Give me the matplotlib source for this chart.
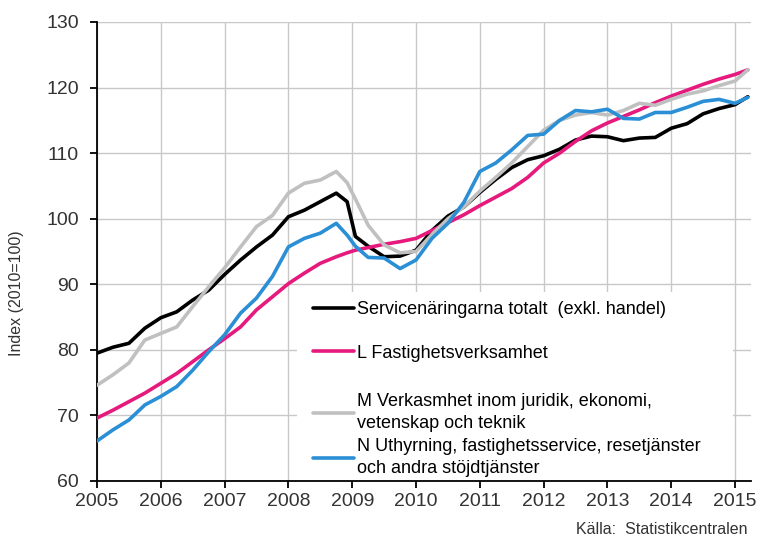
import matplotlib
matplotlib.use("Agg")
import matplotlib.pyplot as plt
from matplotlib.patches import Rectangle

plt.rcParams['font.family'] = ['Liberation Sans', 'DejaVu Sans']

# tidpunkter (år, ungefär kvartalsvis)
ar = [2005.0, 2005.25, 2005.5, 2005.75,
      2006.0, 2006.25, 2006.5, 2006.75,
      2007.0, 2007.25, 2007.5, 2007.75,
      2008.0, 2008.25, 2008.5, 2008.75, 2008.92,
      2009.05, 2009.25, 2009.5, 2009.75,
      2010.0, 2010.25, 2010.5, 2010.75,
      2011.0, 2011.25, 2011.5, 2011.75,
      2012.0, 2012.25, 2012.5, 2012.75,
      2013.0, 2013.25, 2013.5, 2013.75,
      2014.0, 2014.25, 2014.5, 2014.75,
      2015.0, 2015.2]

totalt = [79.5, 80.4, 81.0, 83.3,
          84.9, 85.8, 87.6, 89.1,
          91.5, 93.7, 95.7, 97.5,
          100.3, 101.3, 102.6, 103.9, 102.6,
          97.3, 95.8, 94.2, 94.3,
          95.2, 98.2, 100.4, 101.8,
          104.0, 106.0, 107.8, 109.0,
          109.6, 110.6, 112.0, 112.6,
          112.5, 111.9, 112.3, 112.4,
          113.8, 114.5, 116.0, 116.8,
          117.4, 118.6]

fastighet = [69.6, 70.8, 72.1, 73.4,
             74.9, 76.4, 78.2, 80.0,
             81.7, 83.5, 86.1, 88.1,
             90.1, 91.7, 93.2, 94.2, 94.8,
             95.2, 95.6, 96.1, 96.5,
             97.0, 98.2, 99.4, 100.6,
             102.0, 103.3, 104.6, 106.3,
             108.5, 110.0, 111.8, 113.4,
             114.6, 115.6, 116.6, 117.7,
             118.7, 119.6, 120.5, 121.3,
             122.0, 122.7]

juridik = [74.6, 76.2, 78.0, 81.5,
           82.5, 83.5, 86.6, 89.6,
           92.5, 95.7, 98.8, 100.5,
           103.9, 105.4, 105.9, 107.2, 105.5,
           103.0, 99.0, 96.0, 94.8,
           95.0, 97.6, 100.0, 101.8,
           104.2, 106.3, 108.5, 111.0,
           113.5, 115.0, 115.8, 116.2,
           115.8, 116.5, 117.6, 117.3,
           118.2, 119.0, 119.5, 120.3,
           121.0, 122.7]

uthyrning = [66.1, 67.8, 69.3, 71.6,
             72.9, 74.4, 76.9, 79.7,
             82.3, 85.6, 87.9, 91.2,
             95.7, 97.0, 97.8, 99.3, 97.5,
             95.8, 94.1, 94.0, 92.4,
             93.7, 97.0, 99.3, 102.5,
             107.2, 108.5, 110.5, 112.7,
             112.9, 115.0, 116.5, 116.3,
             116.7, 115.3, 115.2, 116.2,
             116.2, 117.0, 117.9, 118.2,
             117.6, 118.5]

etiketter = ['Servicenäringarna totalt  (exkl. handel)',
             'L Fastighetsverksamhet',
             'M Verkasmhet inom juridik, ekonomi,\nvetenskap och teknik',
             'N Uthyrning, fastighetsservice, resetjänster\noch andra stöjdtjänster']
farger = ['#000000', '#e6197d', '#c0c0c0', '#2b8fd6']
serier = [totalt, fastighet, juridik, uthyrning]

fig = plt.figure(figsize=(7.63, 5.42), dpi=100)
ax = fig.add_axes([97/763, 1 - 481/542, 654/763, 459/542])

linjer = []
for y, f, e in zip(serier, farger, etiketter):
    l, = ax.plot(ar, y, color=f, linewidth=2.6, label=e, zorder=3,
                 solid_joinstyle='round', solid_capstyle='round')
    linjer.append(l)

ax.set_xlim(2005, 2015.25)
ax.set_ylim(60, 130)
ax.set_xticks(range(2005, 2016))
ax.set_yticks(range(60, 131, 10))
ax.grid(True, color='#c8c8c8', linewidth=1.0)
ax.set_axisbelow(True)
for s in ['top', 'right']:
    ax.spines[s].set_visible(False)
for s in ['left', 'bottom']:
    ax.spines[s].set_linewidth(1.3)
ax.tick_params(axis='both', labelsize=14, colors='#000000', labelcolor='#333333',
               length=5, width=1.3)
ax.tick_params(axis='y', pad=8)
ax.tick_params(axis='x', pad=4)

# vit bakgrund bakom förklaringen
ax.add_patch(Rectangle((0.306, 0.0), 0.666, 0.412, transform=ax.transAxes,
                       facecolor='white', edgecolor='none', zorder=1.5))

leg1 = ax.legend(linjer[:2], etiketter[:2], loc='upper left',
                 bbox_to_anchor=(0.330, 0.392), frameon=False, fontsize=13,
                 borderpad=0, borderaxespad=0, handlelength=2.3,
                 handletextpad=0.15, labelspacing=1.47)
ax.add_artist(leg1)
leg2 = ax.legend(linjer[2:], etiketter[2:], loc='upper left',
                 bbox_to_anchor=(0.330, 0.191), frameon=False, fontsize=13,
                 borderpad=0, borderaxespad=0, handlelength=2.3,
                 handletextpad=0.15, labelspacing=0.32)
for t in leg2.get_texts():
    t.set_linespacing(1.38)

fig.text(17/763, 1 - 293/542, 'Index (2010=100)', rotation=90, fontsize=11.5,
         ha='center', va='center', color='#333333')
fig.text(748/763, 1 - 530/542, 'Källa:  Statistikcentralen', fontsize=11.5,
         ha='right', va='center', color='#333333')

fig.savefig('out.png', dpi=100)
